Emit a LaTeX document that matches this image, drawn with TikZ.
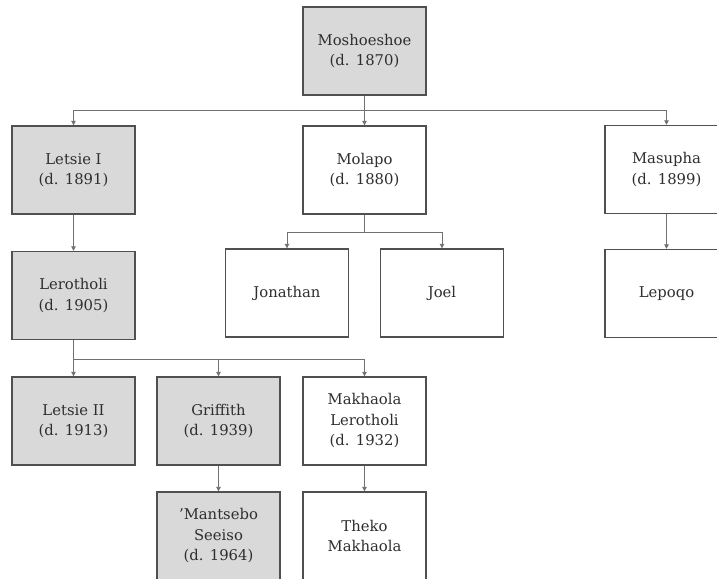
\documentclass[tikz,border=0pt]{standalone}
\usepackage{fontspec}
\setmainfont{DejaVu Serif}
\usetikzlibrary{arrows.meta}
\definecolor{boxfill}{HTML}{D9D9D9}
\definecolor{boxline}{HTML}{505050}
\definecolor{conncol}{HTML}{707070}
\definecolor{txt}{HTML}{2E2E2E}
\tikzset{
  person/.style={draw=boxline, line width=1.4pt, fill=white, minimum width=123pt, minimum height=88pt,
     inner sep=0pt, align=center, text=txt, font=\fontsize{14.8}{20.5}\selectfont},
  ruler/.style={person, fill=boxfill},
  conn/.style={draw=conncol, line width=0.9pt, -{Triangle[width=4.5pt,length=4.5pt]}},
}
\begin{document}
\begin{tikzpicture}[x=1pt,y=-1pt]
\useasboundingbox (0,0) rectangle (717,578);
\clip (0,0) rectangle (717,578);
\fill[white] (0,0) rectangle (717,578);
\node[ruler] (mosh) at (364.5,51) {Moshoeshoe\\(d. 1870)};
\node[ruler] (letsie1) at (73.5,170) {Letsie I\\(d. 1891)};
\node[person] (molapo) at (364.5,170) {Molapo\\(d. 1880)};
\node[person] (masupha) at (666.5,169.5) {Masupha\\(d. 1899)};
\node[ruler] (lero) at (73.5,295.5) {Lerotholi\\(d. 1905)};
\node[person] (jonathan) at (287,293) {Jonathan};
\node[person] (joel) at (442,293) {Joel};
\node[person] (lepoqo) at (666.5,293.5) {Lepoqo};
\node[ruler] (letsie2) at (73.5,421) {Letsie II\\(d. 1913)};
\node[ruler] (griffith) at (218.5,421) {Griffith\\(d. 1939)};
\node[person] (makhaola) at (364.5,421) {Makhaola\\Lerotholi\\(d. 1932)};
\node[ruler] (mantsebo) at (218.5,536) {'Mantsebo\\Seeiso\\(d. 1964)};
\node[person] (theko) at (364.5,536) {Theko\\Makhaola};

\coordinate (busA) at (364.5,110);
\draw[conn] (mosh.south) -- (busA) -| (letsie1.north);
\draw[conn] (busA) -- (molapo.north);
\draw[conn] (busA) -| (masupha.north);

\coordinate (busB) at (364.5,232);
\draw[conn] (molapo.south) -- (busB) -| (jonathan.north);
\draw[conn] (busB) -| (joel.north);

\draw[conn] (letsie1.south) -- (lero.north);
\draw[conn] (masupha.south) -- (lepoqo.north);

\coordinate (busC) at (73.5,359);
\draw[conn] (lero.south) -- (busC) -- (letsie2.north);
\draw[conn] (busC) -| (griffith.north);
\draw[conn] (busC) -| (makhaola.north);

\draw[conn] (griffith.south) -- (mantsebo.north);
\draw[conn] (makhaola.south) -- (theko.north);
\end{tikzpicture}
\end{document}
